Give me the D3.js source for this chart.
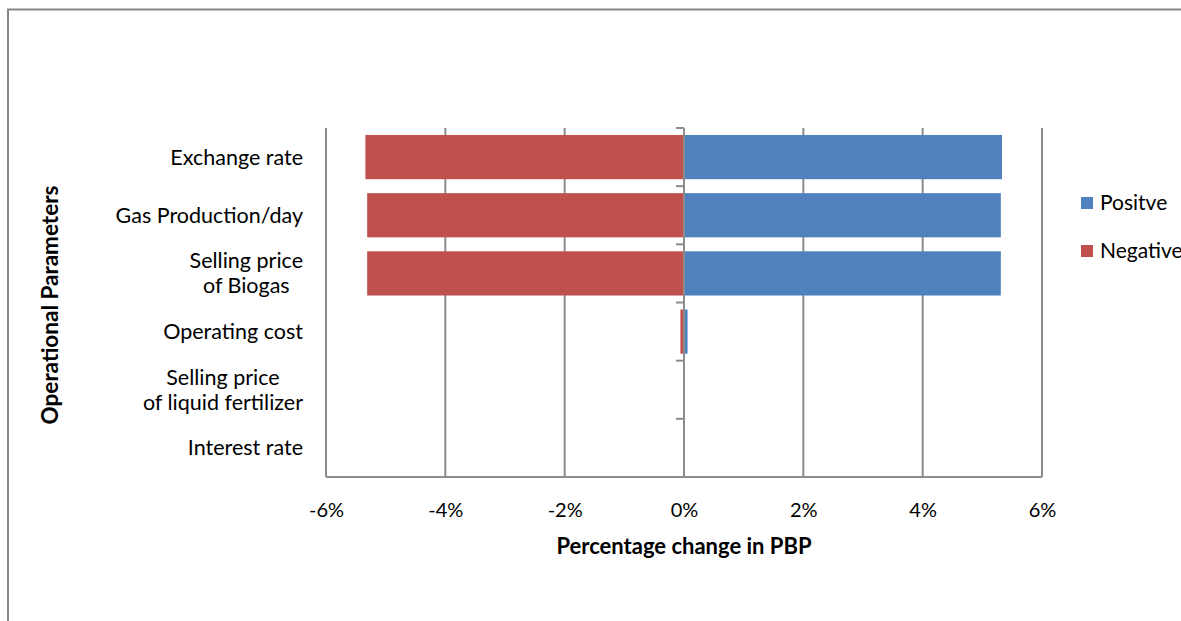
<!DOCTYPE html>
<html>
<head>
<meta charset="utf-8">
<script src="https://cdn.jsdelivr.net/npm/d3@7"></script>
<style>
  html, body { margin: 0; padding: 0; background: #fff; }
  svg { display: block; font-family: Lato, "Open Sans", "Liberation Sans", sans-serif; }
</style>
</head>
<body>
<svg id="chart" width="1181" height="621"></svg>
<script>
// Sensitivity of payback period (PBP) to each operational parameter
const categories = [
  ["Exchange rate"],
  ["Gas Production/day"],
  ["Selling price", "of Biogas"],
  ["Operating cost"],
  ["Selling price", "of liquid fertilizer"],
  ["Interest rate"]
];
const negativeValues = [-0.0534, -0.0531, -0.0531, -0.0006, -0.0001, 0];
const positiveValues = [0.0533, 0.0531, 0.0531, 0.0006, 0.0001, 0];
const xTicks = [-0.06, -0.04, -0.02, 0, 0.02, 0.04, 0.06];
const seriesNames = ["Positve", "Negative"];
const seriesColors = ["#4F81BD", "#C0504D"];

const svg = d3.select("#chart");
const plot = { left: 326, right: 1042, top: 128, bottom: 477 };

// chart frame
svg.append("path")
  .attr("d", "M8,622 V9.5 H1182")
  .attr("fill", "none")
  .attr("stroke", "#868686")
  .attr("stroke-width", 2);

const x = d3.scaleLinear().domain([-0.06, 0.06]).range([plot.left, plot.right]);
const y = d3.scaleBand()
  .domain(d3.range(categories.length))
  .range([plot.top, plot.bottom])
  .paddingInner(0.24)
  .paddingOuter(0.12);

// vertical gridlines
svg.append("g")
  .selectAll("line")
  .data(xTicks.filter(t => t !== 0))
  .join("line")
  .attr("x1", d => x(d)).attr("x2", d => x(d))
  .attr("y1", plot.top).attr("y2", plot.bottom)
  .attr("stroke", "#8c8c8c").attr("stroke-width", 2);

// bars
const bars = svg.append("g");
bars.selectAll("rect.neg")
  .data(negativeValues)
  .join("rect")
  .attr("class", "neg")
  .attr("x", d => x(d))
  .attr("y", (d, i) => y(i))
  .attr("width", d => x(0) - x(d))
  .attr("height", y.bandwidth())
  .attr("fill", seriesColors[1]);
bars.selectAll("rect.pos")
  .data(positiveValues)
  .join("rect")
  .attr("class", "pos")
  .attr("x", x(0))
  .attr("y", (d, i) => y(i))
  .attr("width", d => x(d) - x(0))
  .attr("height", y.bandwidth())
  .attr("fill", seriesColors[0]);

// bottom axis line and tick labels
svg.append("line")
  .attr("x1", plot.left).attr("x2", plot.right)
  .attr("y1", plot.bottom).attr("y2", plot.bottom)
  .attr("stroke", "#8c8c8c").attr("stroke-width", 2);

const xAxis = d3.axisBottom(x).tickValues(xTicks).tickFormat(d3.format(".0%")).tickSize(0).tickPadding(0);
const gx = svg.append("g").attr("transform", `translate(0,${plot.bottom})`).call(xAxis);
gx.select(".domain").remove();
gx.selectAll("text")
  .attr("y", 40)
  .attr("dy", 0)
  .attr("font-size", 20)
  .attr("font-family", "Lato, 'Open Sans', sans-serif")
  .attr("fill", "#000")
  .text(d => d3.format(".0%")(d).replace("−", "-"));

// category axis along zero with ticks at band boundaries
const step = y.step();
const boundaries = d3.range(categories.length + 1).map(i => plot.top + i * step);
svg.append("line")
  .attr("x1", x(0)).attr("x2", x(0))
  .attr("y1", plot.top).attr("y2", plot.bottom)
  .attr("stroke", "#8c8c8c").attr("stroke-width", 2);
svg.append("g")
  .selectAll("line")
  .data(boundaries)
  .join("line")
  .attr("x1", x(0) - 8).attr("x2", x(0))
  .attr("y1", d => d).attr("y2", d => d)
  .attr("stroke", "#8c8c8c").attr("stroke-width", 2);

// category labels, lines centered within a right-aligned block
const labelRight = 303;
const lineH = 25;
const labels = svg.append("g").attr("font-size", 21.5).attr("fill", "#000");
categories.forEach((lines, i) => {
  const cy = y(i) + y.bandwidth() / 2;
  const t = labels.append("text").attr("text-anchor", "middle");
  const spans = lines.map((ln, k) => t.append("tspan")
    .attr("x", 0)
    .attr("y", cy + (k - (lines.length - 1) / 2) * lineH)
    .attr("dy", "0.35em")
    .text(ln));
  const w = d3.max(spans, s => s.node().getComputedTextLength());
  t.attr("transform", `translate(${labelRight - w / 2},0)`);
});

// axis titles
svg.append("text")
  .attr("x", x(0)).attr("y", 546)
  .attr("dy", "0.35em")
  .attr("text-anchor", "middle")
  .attr("font-size", 22).attr("font-weight", "bold")
  .text("Percentage change in PBP");

svg.append("text")
  .attr("transform", "translate(50,305) rotate(-90)")
  .attr("dy", "0.35em")
  .attr("text-anchor", "middle")
  .attr("font-size", 22.5).attr("font-weight", "bold")
  .text("Operational Parameters");

// legend
const legend = svg.append("g");
seriesNames.forEach((name, i) => {
  const ly = 203 + i * 48;
  legend.append("rect")
    .attr("x", 1081).attr("y", ly - 6)
    .attr("width", 12).attr("height", 12)
    .attr("fill", seriesColors[i]);
  legend.append("text")
    .attr("x", 1100).attr("y", ly)
    .attr("dy", "0.35em")
    .attr("font-size", 21)
    .text(name);
});
</script>
</body>
</html>
